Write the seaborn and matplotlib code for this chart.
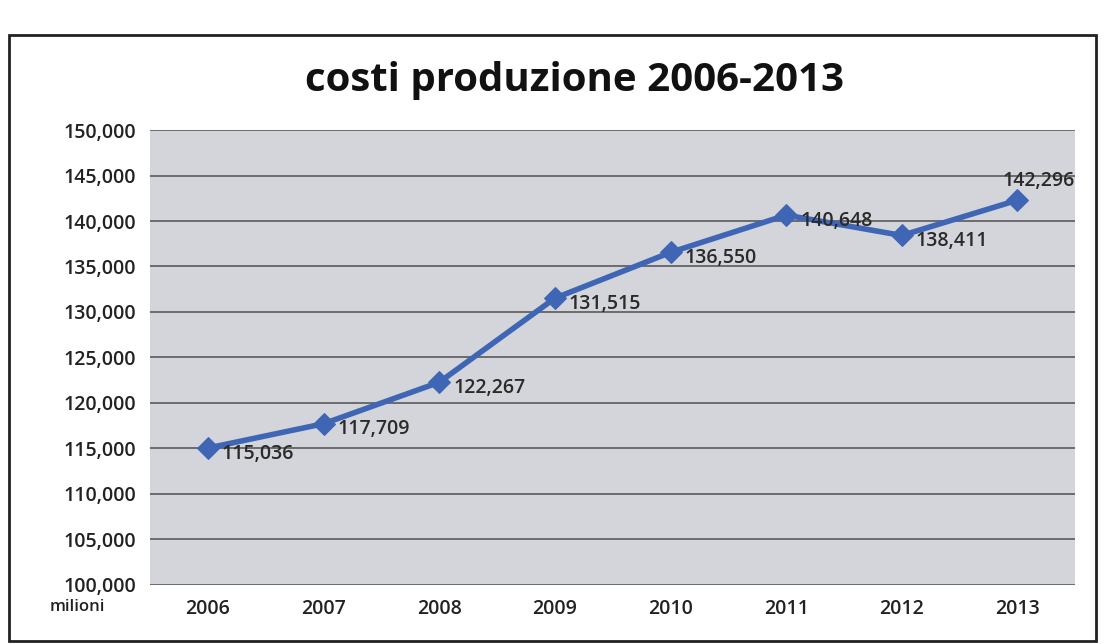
import matplotlib
matplotlib.use("Agg")
import matplotlib.pyplot as plt
import seaborn as sns
import pandas as pd
from matplotlib.patches import Rectangle

years = ["2006", "2007", "2008", "2009", "2010", "2011", "2012", "2013"]
costs = [115036, 117709, 122267, 131515, 136550, 140648, 138411, 142296]
y_ticks = [100000, 105000, 110000, 115000, 120000, 125000, 130000, 135000, 140000, 145000, 150000]
title = "costi produzione 2006-2013"
unit_label = "milioni"

sns.set_theme(style="white")
plt.rcParams["font.family"] = ["Open Sans", "DejaVu Sans"]

df = pd.DataFrame({"anno": years, "costi": costs})

fig = plt.figure(figsize=(11.04, 6.44), dpi=100)
fig.patch.set_facecolor("white")
ax = fig.add_axes([0.136, 0.092, 0.838, 0.706])
ax.set_facecolor("#d3d5da")

sns.lineplot(data=df, x="anno", y="costi", ax=ax, color="#3f66b5", linewidth=4,
             marker="D", markersize=11, markeredgecolor="#3f66b5", sort=False)

ax.set_ylim(100000, 150000)
ax.set_xlim(-0.5, len(years) - 0.5)
ax.set_yticks(y_ticks)
ax.set_yticklabels([f"{v:,}" for v in y_ticks], fontsize=14, fontweight="semibold", color="#222222")
ax.set_xticks(range(len(years)))
ax.set_xticklabels(years, fontsize=14, fontweight="semibold", color="#222222")
ax.tick_params(axis="both", length=0, pad=10)
ax.set_xlabel("")
ax.set_ylabel("")
ax.yaxis.grid(True, color="#5a5a5a", linewidth=1.2)
ax.xaxis.grid(False)
for s in ax.spines.values():
    s.set_visible(False)

n = len(costs)
for i, v in enumerate(costs):
    off = (-11, 14) if i == n - 1 else (10, -4)
    ax.annotate(f"{v:,}", (i, v), xytext=off, textcoords="offset points",
                ha="left", va="center", fontsize=14, fontweight="semibold", color="#2a2a2a")

fig.text(0.52, 0.875, title, ha="center", va="center", fontsize=29, fontweight="bold", color="#111111")
fig.text(0.07, 0.058, unit_label, ha="center", va="center", fontsize=12, fontweight="semibold", color="#222222")

fig.patches.append(Rectangle((0.008, 0.005), 0.985, 0.94, transform=fig.transFigure,
                             fill=False, edgecolor="#222222", linewidth=2))

fig.savefig("out.png", dpi=100, facecolor="white")
